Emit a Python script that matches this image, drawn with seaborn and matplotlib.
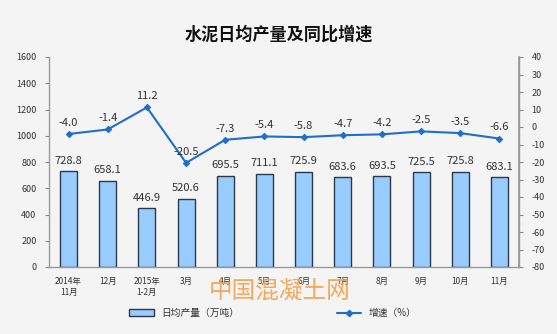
import numpy as np
import pandas as pd
import matplotlib
matplotlib.use("Agg")
import matplotlib.pyplot as plt
import seaborn as sns
from matplotlib.lines import Line2D
from matplotlib.patches import Patch

months = ["2014年\n11月", "12月", "2015年\n1-2月", "3月", "4月", "5月", "6月",
          "7月", "8月", "9月", "10月", "11月"]
daily_output = [728.8, 658.1, 446.9, 520.6, 695.5, 711.1, 725.9, 683.6, 693.5, 725.5, 725.8, 683.1]
growth_rate = [-4.0, -1.4, 11.2, -20.5, -7.3, -5.4, -5.8, -4.7, -4.2, -2.5, -3.5, -6.6]
left_ticks = list(range(0, 1601, 200))
right_ticks = list(range(-80, 41, 10))

sns.set_theme(style="white")
plt.rcParams["font.family"] = ["Noto Sans CJK SC", "DejaVu Sans"]

bg = "#F4F4F4"
bar_color = "#99CCFF"
line_color = "#1F6FC8"
text_color = "#333333"

fig = plt.figure(figsize=(5.57, 3.34), dpi=100, facecolor=bg)
ax = fig.add_axes([49 / 557, 1 - 267 / 334, 470 / 557, 210 / 334])
ax.set_facecolor(bg)

df = pd.DataFrame({"month": months, "output": daily_output})
sns.barplot(data=df, x="month", y="output", ax=ax, color=bar_color,
            edgecolor="#2B3A4A", linewidth=1.0, width=0.43, saturation=1)
ax.set_ylim(0, 1600)
ax.set_xlim(-0.5, len(months) - 0.5)
ax.set_yticks(left_ticks)
ax.set_yticklabels([str(t) for t in left_ticks], fontsize=6.5, color=text_color)
ax.set_xlabel("")
ax.set_ylabel("")
ax.set_xticks(range(len(months)))
ax.set_xticklabels(months, fontsize=6, color=text_color, linespacing=1.3)
ax.tick_params(axis="x", length=0, pad=7)
ax.tick_params(axis="y", length=3, width=0.8, color="#888888", direction="out", pad=6)
ax.set_xticks(np.arange(-0.5, len(months), 1), minor=True)
ax.tick_params(axis="x", which="minor", length=3, width=0.8, color="#888888", direction="out")
ax.spines["top"].set_visible(False)
for side in ["left", "bottom", "right"]:
    ax.spines[side].set_color("#999999")
    ax.spines[side].set_linewidth(1.0)

for i, v in enumerate(daily_output):
    ax.text(i, v + 40, f"{v:.1f}", ha="center", va="bottom", fontsize=8, color=text_color)

ax2 = ax.twinx()
sns.lineplot(x=np.arange(len(months)), y=growth_rate, ax=ax2, color=line_color,
             linewidth=1.5, marker="D", markersize=3.2, markeredgecolor=line_color)
ax2.set_ylim(-80, 40)
ax2.set_yticks(right_ticks)
ax2.set_yticklabels([str(t) for t in right_ticks], fontsize=6.5, color=text_color)
ax2.tick_params(axis="y", length=3, width=0.8, color="#888888", direction="out", pad=6)
ax2.spines["top"].set_visible(False)
ax2.spines["left"].set_visible(False)
ax2.spines["bottom"].set_visible(False)
ax2.spines["right"].set_color("#999999")
for i, v in enumerate(growth_rate):
    ax2.text(i, v + 3.5, f"{v:.1f}", ha="center", va="bottom", fontsize=8, color=text_color)

fig.text(0.5, 1 - 35 / 334, "水泥日均产量及同比增速", ha="center", va="center",
         fontsize=12.3, fontweight="bold", color="#111111")

handles = [Patch(facecolor=bar_color, edgecolor="#2B3A4A", linewidth=1.0),
           Line2D([0], [0], color=line_color, linewidth=1.5, marker="D", markersize=3.2)]
fig.legend(handles, ["日均产量（万吨）", "增速（%）"], loc="center",
           bbox_to_anchor=(0.49, 1 - 313 / 334), ncol=2, frameon=False,
           fontsize=7, columnspacing=10, handlelength=2.5, labelcolor=text_color)

fig.text(280 / 557, 1 - 292 / 334, "中国混凝土网", ha="center", va="center",
         fontsize=17, color="#F5A04A", alpha=0.9)

fig.savefig("out.png", dpi=100, facecolor=bg)
